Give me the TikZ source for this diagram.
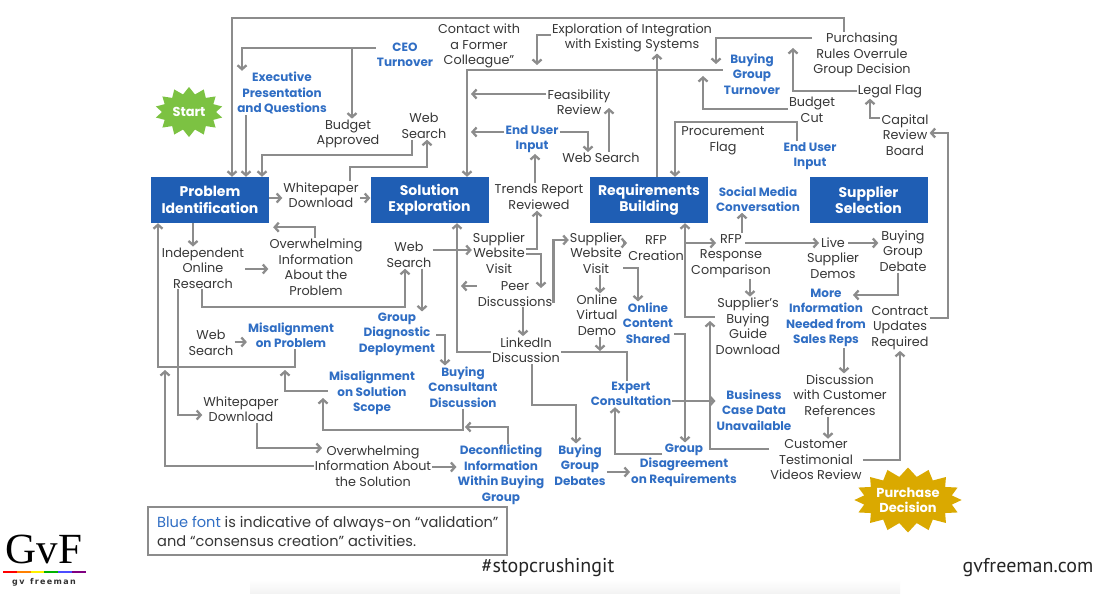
\documentclass[tikz,border=0pt]{standalone}
\usepackage{fontspec}
\usepackage{graphicx}
\setmainfont{Poppins}
\newfontfamily\footfont{PT Sans}
\newfontfamily\logofont{Liberation Serif}
\newfontfamily\logosans{DejaVu Sans}
\usetikzlibrary{arrows.meta,shapes.symbols}
\definecolor{boxblue}{RGB}{31,94,180}
\definecolor{bluetext}{RGB}{48,110,196}
\definecolor{textgray}{RGB}{55,55,55}
\definecolor{linegray}{RGB}{140,140,140}
\definecolor{startgreen}{RGB}{124,194,66}
\definecolor{burstgold}{RGB}{218,169,0}
\begin{document}
\begin{tikzpicture}[x=1pt,y=-1pt,
 mainbox/.style={fill=boxblue,text=white,font=\bfseries\fontsize{14}{16.5}\selectfont,minimum width=118pt,minimum height=46pt,align=center,inner sep=0pt},
 txt/.style={text=textgray,font=\fontsize{12.8}{15.5}\selectfont,align=center,inner sep=1pt},
 btxt/.style={text=bluetext,font=\bfseries\fontsize{12}{15.5}\selectfont,align=center,inner sep=1pt},
 arr/.style={draw=linegray,line width=2.3pt,-{Straight Barb[length=4pt,width=9pt]}},
 ln/.style={draw=linegray,line width=2.3pt},
 burst/.style={starburst,starburst points=14,random starburst=0,text=white,font=\bfseries\fontsize{13}{15}\selectfont,align=center,inner sep=0pt}
]
\useasboundingbox (0,0) rectangle (1100,594);
\fill[white] (0,0) rectangle (1100,594);
\shade[top color=white,bottom color=black!5] (250,580) rectangle (900,594);

% main boxes
\node[mainbox] (pi) at (210,200) {Problem\\Identification};
\node[mainbox] (se) at (429.5,200) {Solution\\Exploration};
\node[mainbox] (rb) at (649,200) {Requirements\\Building};
\node[mainbox] (ss) at (868.5,200) {Supplier\\Selection};

% bursts
\node[burst,fill=startgreen,minimum width=68pt,minimum height=50pt,starburst point height=7pt] (start) at (189,112) {Start};
\node[burst,fill=burstgold,starburst points=16,minimum width=93pt,minimum height=65pt,starburst point height=9pt] (pd) at (908,500) {Purchase\\Decision};

% top texts
\node[btxt] (ceo) at (405,55) {CEO\\Turnover};
\node[btxt] (exec) at (282,93) {Executive\\Presentation\\and Questions};
\node[txt] (budget) at (348,134) {Budget\\Approved};
\node[txt] (wst) at (424,126) {Web\\Search};
\node[txt] (wpd) at (321,195) {Whitepaper\\Download};
\node[txt] (contact) at (479,46) {Contact with\\a Former\\Colleague”};
\node[txt] (expl) at (632,38) {Exploration of Integration\\with Existing Systems};
\node[txt] (purch) at (862,55) {Purchasing\\Rules Overrule\\Group Decision};
\node[btxt] (bgt) at (752,74) {Buying\\Group\\Turnover};
\node[txt] (legal) at (890,91) {Legal Flag};
\node[txt] (bcut) at (812,110) {Budget\\Cut};
\node[txt] (crb) at (905,135) {Capital\\Review\\Board};
\node[txt] (feas) at (579,102) {Feasibility\\Review};
\node[btxt] (eui1) at (532,139) {End User\\Input};
\node[txt] (wsm2) at (601,158) {Web Search};
\node[txt] (proc) at (723,141) {Procurement\\Flag};
\node[btxt] (eui2) at (810,156) {End User\\Input};
\node[txt] (trends) at (539,197) {Trends Report\\Reviewed};
\node[btxt] (social) at (758,199) {Social Media\\Conversation};

% middle texts
\node[txt] (ior) at (203,268) {Independent\\Online\\Research};
\node[txt] (oip) at (316,267) {Overwhelming\\Information\\About the\\Problem};
\node[txt] (wsm) at (409,255) {Web\\Search};
\node[txt] (swv1) at (499,253) {Supplier\\Website\\Visit};
\node[txt] (peer) at (515,294) {Peer\\Discussions};
\node[btxt] (gdd) at (397,334) {Group\\Diagnostic\\Deployment};
\node[txt] (wsl) at (211,343) {Web\\Search};
\node[btxt] (mop) at (291,335) {Misalignment\\on Problem};
\node[txt] (li) at (526,350) {LinkedIn\\Discussion};
\node[txt] (swv2) at (596,253) {Supplier\\Website\\Visit};
\node[txt] (ovd) at (597,315) {Online\\Virtual\\Demo};
\node[btxt] (ocs) at (648,323) {Online\\Content\\Shared};
\node[txt] (rfpc) at (656,248) {RFP\\Creation};
\node[txt] (rfpr) at (731,256) {RFP\\Response\\Comparison};
\node[txt] (live) at (833,258) {Live\\Supplier\\Demos};
\node[txt] (bgd) at (903,251) {Buying\\Group\\Debate};
\node[txt] (sbg) at (748,326) {Supplier’s\\Buying\\Guide\\Download};
\node[btxt] (more) at (826,318) {More\\Information\\Needed from\\Sales Reps};
\node[txt] (cur) at (900,328) {Contract\\Updates\\Required};

% lower texts
\node[btxt] (moss) at (372,393) {Misalignment\\on Solution\\Scope};
\node[btxt] (bcd) at (463,387) {Buying\\Consultant\\Discussion};
\node[txt] (wpl) at (241,409) {Whitepaper\\Download};
\node[txt] (ois) at (373,466) {Overwhelming\\Information About\\the Solution};
\node[btxt] (decon) at (501,475) {Deconflicting\\Information\\Within Buying\\Group};
\node[btxt] (expert) at (631,394) {Expert\\Consultation};
\node[btxt] (bcdu) at (754,410) {Business\\Case Data\\Unavailable};
\node[txt] (dcr) at (840,395) {Discussion\\with Customer\\References};
\node[txt] (ctv) at (816,460) {Customer\\Testimonial\\Videos Review};
\node[btxt] (gdr) at (684,465) {Group\\Disagreement\\on Requirements};
\node[btxt] (bgdb) at (580,465) {Buying\\Group\\Debates};

% legend
\node[draw=linegray,line width=2pt,minimum width=359pt,minimum height=48pt,inner sep=0pt] (legend) at (327.5,531) {};
\node[text=textgray,font=\fontsize{14.6}{19}\selectfont,align=left,anchor=west,inner sep=0pt] (legendtext) at (157,531) {\textcolor{bluetext}{Blue font} is indicative of always-on “validation”\\and “consensus creation” activities.};

% footer
\node[font=\footfont\fontsize{20}{22}\selectfont,text=black!85] (hash) at (548,568) {\#stopcrushingit};
\node[font=\footfont\fontsize{20}{22}\selectfont,text=black!85] (site) at (1028,568) {gvfreeman.com};
\node[font=\logofont\fontsize{43}{43}\selectfont,inner sep=0pt,anchor=base] (logo) at (44,563) {GvF};
\foreach \c [count=\i from 0] in {red,orange,yellow,green!70!black,blue!70,violet}
  \fill[\c] ({3+\i*13.8},571) rectangle ({3+(\i+1)*13.8},573);
\node[font=\logosans\bfseries\fontsize{8}{9}\selectfont,text=black!80,inner sep=0pt] (logotext) at (44,582) {g\,v\ \ f\,r\,e\,e\,m\,a\,n};

% connectors
\draw[arr] (purch.north -| 844,0) |- (232,18) -- (pi.north -| 232,0);
\draw[arr] (purch.west |- 0,38) -| (716,64);
\draw[arr] (bgt.west |- 0,70) -| (se.north -| 467,0);
\draw[arr] (expl.west |- 0,35) -| (537,65);
\draw[arr] (rb.north -| 657,0) -- (expl.south -| 657,0);
\draw[arr] (feas.west |- 0,94) -- (471,94);
\draw[arr] (eui1.west |- 0,132) -- (471,132);
\draw[arr] (eui1.east |- 0,132) -| (wsm2.north -| 588,0);
\draw[arr] (wsm2.north -| 609,0) -- (609,108);
\draw[arr] (trends.north -| 535,0) -- (eui1.south -| 535,0);
\draw[arr] (bcut.west |- 0,109) -| (703,76);
\draw[arr] (legal.west |- 0,91) -| (793,48);
\draw[arr] (crb.west |- 0,118) -| (legal.south -| 870,0);
\draw[arr] (cur.east |- 0,318) -| (948,133) -- (crb.east |- 0,133);
\draw[arr] (eui2.north -| 797,0) |- (675,122) -- (rb.north -| 675,0);
\draw[arr] (exec.south -| 246,0) -- (pi.north -| 246,0);
\draw[arr] (ceo.west |- 0,48) -| (exec.north -| 242,0);
\draw[arr] (352,48) -- (budget.north -| 352,0);
\draw[arr] (wst.south -| 412,0) |- (262,155) -- (pi.north -| 262,0);
\draw[arr] (wpd.north -| 350,0) |- (427,167) -- (wst.south -| 427,0);
\draw[arr] (pi.east |- 0,198) -- (wpd.west |- 0,198);
\draw[arr] (wpd.east |- 0,198) -- (se.west |- 0,198);
\draw[arr] (oip.north -| 315,0) |- ([xshift=4pt,yshift=-4pt]pi.south east);
\draw[arr] (pi.south -| 193,0) -- (ior.north -| 193,0);
\draw[arr] (ior.east |- 0,269) -- (oip.west |- 0,269);
\draw[arr] (ior.south -| 202,0) |- (405,307) -- (wsm.south -| 405,0);
\draw[arr] (wsm.east |- 0,250) -- (swv1.west |- 0,250);
\draw[arr] (wsm.south -| 422,0) -- (gdd.north -| 422,0);
\draw[arr] (gdd.east |- 0,335) -| (bcd.north -| 445,0);
\draw[arr] (mop.south -| 295,0) |- (158,367) -- (pi.south -| 158,0);
\draw[arr] (wsl.east |- 0,342) -- (mop.west |- 0,342);
\draw[arr] (ior.south -| 178,0) |- (wpl.west |- 0,415);
\draw[arr] (wpl.south -| 257,0) |- (322,448);
\draw[arr] (ois.west |- 0,466) -| (165,370);
\draw[arr] (ois.east |- 0,467) -- (decon.west |- 0,467);
\draw[arr] (decon.north -| 508,0) |- (465,427);
\draw[arr] (bcd.south -| 463,0) |- (323,430) -- (323,398);
\draw[arr] (moss.west |- 0,391) -| (285,370);
\draw[arr] (li.west |- 0,352) -| (se.south -| 457,0);
\draw[arr] (swv1.east |- 0,249) -| (trends.south -| 537,0);
\draw[arr] (swv1.east |- 0,254) -| (541,288);
\draw[arr] (peer.west |- 0,286) -- (461,286);
\draw[arr] (peer.south -| 523,0) -- (li.north -| 523,0);
\draw[arr] (peer.east |- 0,303) |- (swv2.west |- 0,240);
\draw[arr] (swv2.south -| 600,0) -- (ovd.north -| 600,0);
\draw[arr] (swv2.east |- 0,268) -| (ocs.north -| 638,0);
\draw[arr] (swv2.east |- 0,243) -- (rfpc.west |- 0,243);
\draw[arr] (ovd.south -| 600,0) -- (600,351);
\draw[ln] (li.east |- 0,352) -| (expert.north -| 627,0);
\draw[arr] (li.south -| 532,0) |- (576,405) -- (bgdb.north -| 576,0);
\draw[arr] (bgdb.east |- 0,472) -- (gdr.west |- 0,472);
\draw[arr] (662,454) -| (expert.south -| 615,0);
\draw[arr] (ocs.east |- 0,334) -| (gdr.north -| 685,0);
\draw[arr] (expert.east |- 0,401) -- (bcdu.west |- 0,401);
\draw[arr] (ctv.west |- 0,449) -| (710,321);
\draw[arr] (sbg.west |- 0,317) -| (rb.south -| 685,0);
\draw[arr] (rfpc.east |- 0,243) -- (716,243);
\draw[arr] (rfpr.north -| 742,0) -- (social.south -| 742,0);
\draw[arr] (745,243) -- (819,243);
\draw[arr] (rfpr.south -| 750,0) -- (sbg.north -| 750,0);
\draw[arr] (848,243) -- (bgd.west |- 0,243);
\draw[arr] (bgd.south -| 898,0) |- (853,295);
\draw[arr] (more.south -| 844,0) -- (dcr.north -| 844,0);
\draw[arr] (dcr.south -| 828,0) -- (ctv.north -| 828,0);
\draw[arr] (ctv.east |- 0,460) -| (cur.south -| 900,0);
\end{tikzpicture}
\end{document}
